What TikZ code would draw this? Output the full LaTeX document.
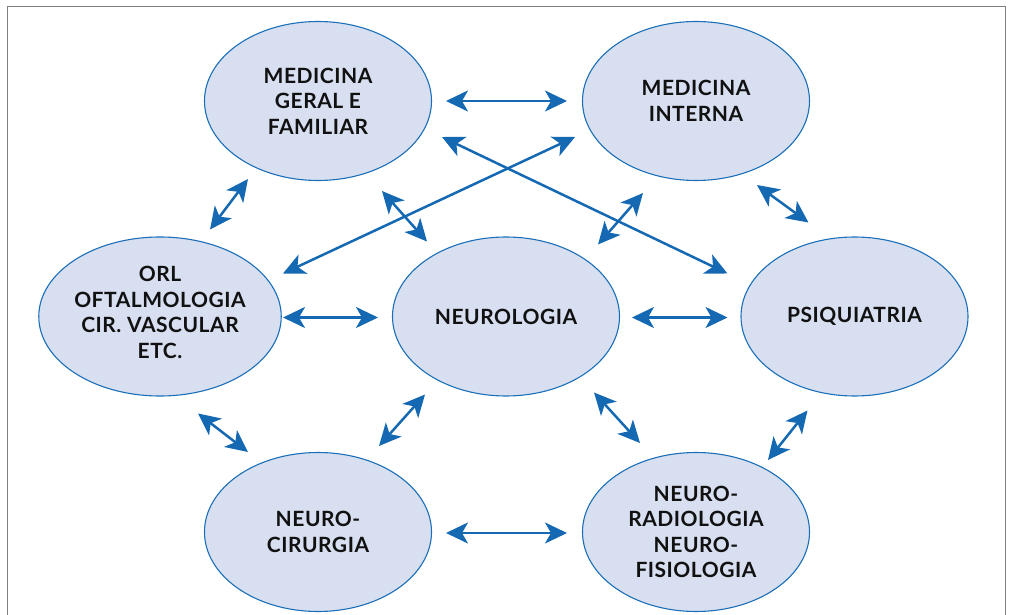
\documentclass[tikz,border=0pt]{standalone}
\usepackage{fontspec}
\setmainfont{Lato}
\newfontfamily\lblfont[LetterSpace=2.5]{Lato}
\usetikzlibrary{shapes.geometric,arrows.meta}
\definecolor{arrblue}{HTML}{1569B3}
\definecolor{elfill}{HTML}{D8DFF0}
\definecolor{eldraw}{HTML}{1A6FB8}
\definecolor{framegray}{HTML}{808080}
\definecolor{txt}{HTML}{111111}
\tikzset{
  bubble/.style={ellipse, draw=eldraw, line width=1.1pt, fill=elfill,
    minimum width=227pt, minimum height=159pt, inner sep=0pt,
    align=center, text=txt, font=\lblfont\fontsize{21}{25.5}\selectfont\bfseries},
  tipshape/.tip={Stealth[length=22pt,width=21pt,inset=6pt]},
  biarrow/.style={draw=arrblue, line width=2.5pt, tipshape-tipshape},
}
\begin{document}
\begin{tikzpicture}[x=1pt,y=-1pt]
\useasboundingbox (0,0) rectangle (1010,615);
\draw[framegray, line width=1.5pt] (7.5,620) -- (7.5,6.5) -- (1005.5,6.5) -- (1005.5,620);

\node[bubble] (mgf) at (318,101) {MEDICINA\\GERAL E\\FAMILIAR};
\node[bubble] (mi) at (696,101) {MEDICINA\\INTERNA};
\node[bubble] (orl) at (160,316.5) {ORL\\OFTALMOLOGIA\\CIR. VASCULAR\\ETC.\\[-17.5pt]};
\node[bubble] (neu) at (506,316.5) {NEUROLOGIA};
\node[bubble] (psi) at (854.5,316.5) {PSIQUIATRIA};
\node[bubble] (nc) at (318,532) {NEURO-\\CIRURGIA};
\node[bubble] (nr) at (696,532) {NEURO-\\RADIOLOGIA\\NEURO-\\FISIOLOGIA};

\draw[biarrow] ([shift={(128,0)}]mgf.center) -- ([shift={(-129,0)}]mi.center);
\draw[biarrow] ([shift={(-121,36)}]mi.center) -- ([shift={(123,-43)}]orl.center);
\draw[biarrow] ([shift={(124,36)}]mgf.center) -- ([shift={(-127,-43)}]psi.center);
\draw[biarrow] ([shift={(123,1)}]orl.center) -- ([shift={(-128,1)}]neu.center);
\draw[biarrow] ([shift={(126,1)}]neu.center) -- ([shift={(-127,1)}]psi.center);
\draw[biarrow] ([shift={(-70,78)}]mgf.center) -- ([shift={(50,-87)}]orl.center);
\draw[biarrow] ([shift={(64,90)}]mgf.center) -- ([shift={(-79,-75)}]neu.center);
\draw[biarrow] ([shift={(-53,92)}]mi.center) -- ([shift={(92,-72)}]neu.center);
\draw[biarrow] ([shift={(61,84)}]mi.center) -- ([shift={(-46,-94)}]psi.center);
\draw[biarrow] ([shift={(38,97)}]orl.center) -- ([shift={(-70,-80)}]nc.center);
\draw[biarrow] ([shift={(-81,78)}]neu.center) -- ([shift={(61,-86)}]nc.center);
\draw[biarrow] ([shift={(88,76)}]neu.center) -- ([shift={(-56,-89)}]nr.center);
\draw[biarrow] ([shift={(-47,94)}]psi.center) -- ([shift={(72,-72)}]nr.center);
\draw[biarrow] ([shift={(128,1)}]nc.center) -- ([shift={(-129,1)}]nr.center);
\end{tikzpicture}
\end{document}
